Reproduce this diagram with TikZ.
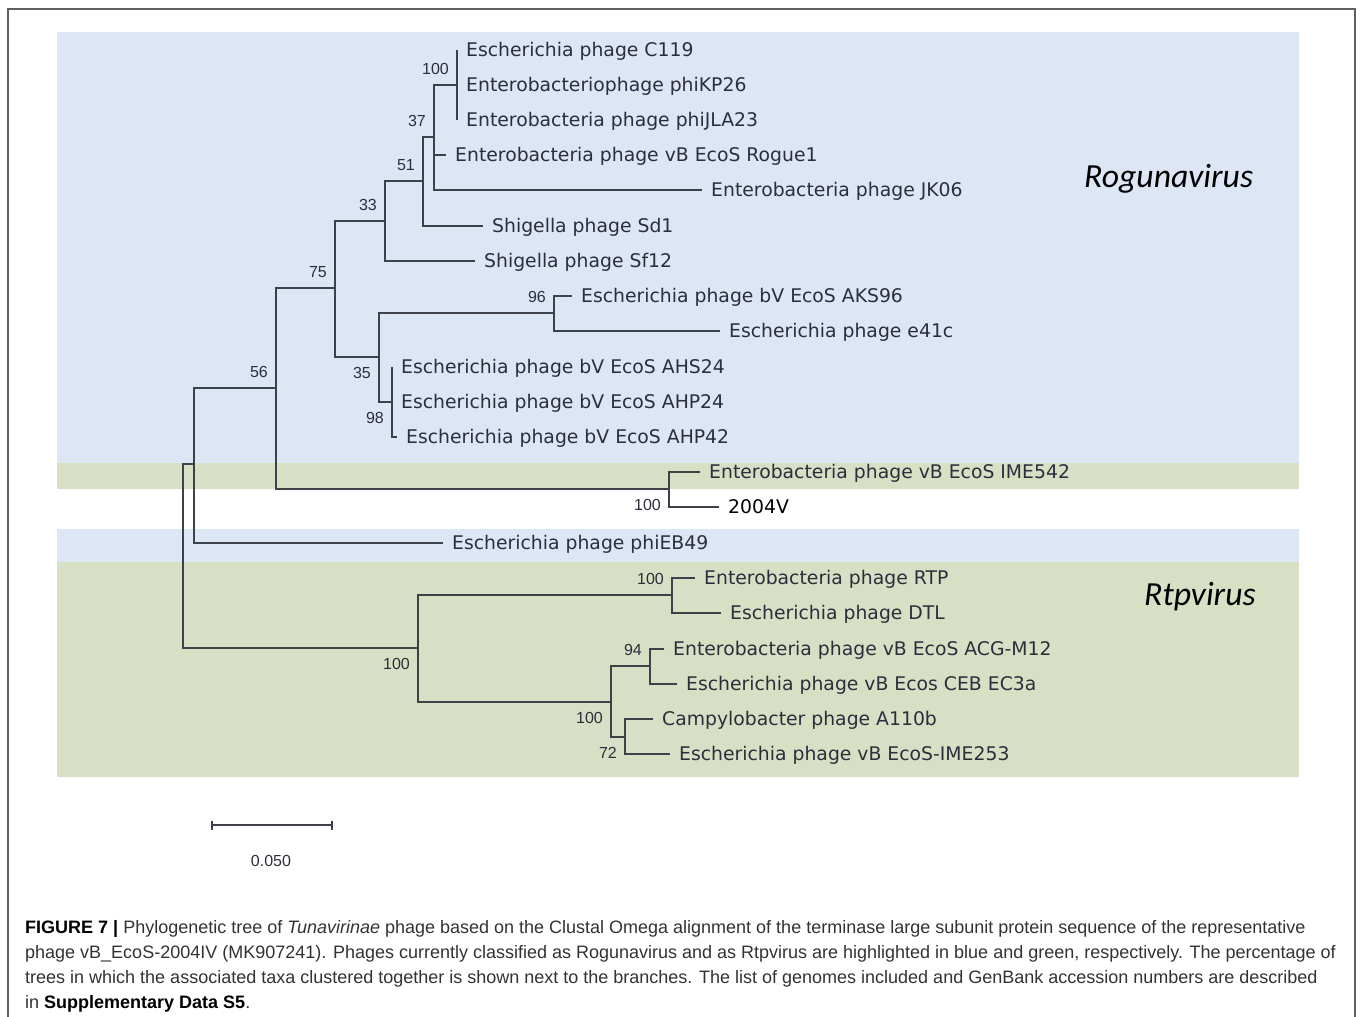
\documentclass[tikz,border=0pt]{standalone}
\usepackage{fontspec}
\setmainfont{Liberation Sans}
\newfontfamily\taxonfont{DejaVu Sans}
\newfontfamily\genusfont{Carlito}
\newfontfamily\captionfont{Liberation Sans}
\usetikzlibrary{positioning, arrows.meta}

\definecolor{roguBlue}{RGB}{220,230,245}
\definecolor{rtpGreen}{RGB}{215,224,196}
\definecolor{lineGray}{RGB}{62,64,74}
\definecolor{textGray}{RGB}{44,46,60}
\definecolor{frameGray}{RGB}{95,95,95}
\definecolor{capGray}{RGB}{50,50,50}

\begin{document}
\begin{tikzpicture}[x=1pt, y=-1pt,
  branch/.style={draw=lineGray, line width=1.6pt},
  taxon/.style={anchor=west, inner xsep=9pt, inner ysep=0pt, text height=13.7pt,
    text depth=0pt, text=textGray, font=\taxonfont\fontsize{18.8}{20}\selectfont},
  boot/.style={inner xsep=8pt, inner ysep=10pt, text=textGray,
    font=\fontsize{16}{17}\selectfont},
  genus/.style={anchor=base west, inner sep=0pt, text=black,
    font=\genusfont\itshape\fontsize{33.7}{36}\selectfont},
  band/.style={draw=none}]

  \useasboundingbox (0,0) rectangle (1360,1017);

  % frame
  \draw[frameGray, line width=1.6pt] (8,1017) -- (8,9) -- (1355,9) -- (1355,1017);

  % highlighted genera
  \fill[band, roguBlue] (57,32) rectangle (1299,463);
  \fill[band, rtpGreen] (57,463) rectangle (1299,489);
  \fill[band, roguBlue] (57,529) rectangle (1299,562);
  \fill[band, rtpGreen] (57,562) rectangle (1299,777);

  % taxa
  \node[taxon] (c119)   at (457,50)  {Escherichia phage C119};
  \node[taxon] (kp26)   at (457,85)  {Enterobacteriophage phiKP26};
  \node[taxon] (jla23)  at (457,120) {Enterobacteria phage phiJLA23};
  \node[taxon] (rogue)  at (446,155) {Enterobacteria phage vB EcoS Rogue1};
  \node[taxon] (jk06)   at (702,190) {Enterobacteria phage JK06};
  \node[taxon] (sd1)    at (483,226) {Shigella phage Sd1};
  \node[taxon] (sf12)   at (475,261) {Shigella phage Sf12};
  \node[taxon] (aks96)  at (572,296) {Escherichia phage bV EcoS AKS96};
  \node[taxon] (e41c)   at (720,331) {Escherichia phage e41c};
  \node[taxon] (ahs24)  at (392,367) {Escherichia phage bV EcoS AHS24};
  \node[taxon] (ahp24)  at (392,402) {Escherichia phage bV EcoS AHP24};
  \node[taxon] (ahp42)  at (397,437) {Escherichia phage bV EcoS AHP42};
  \node[taxon] (ime542) at (700,472) {Enterobacteria phage vB EcoS IME542};
  \node[taxon, text=black] (iv2004) at (719,507) {2004V};
  \node[taxon] (eb49)   at (443,543) {Escherichia phage phiEB49};
  \node[taxon] (rtp)    at (695,578) {Enterobacteria phage RTP};
  \node[taxon] (dtl)    at (721,613) {Escherichia phage DTL};
  \node[taxon] (acg)    at (664,649) {Enterobacteria phage vB EcoS ACG-M12};
  \node[taxon] (ceb)    at (677,684) {Escherichia phage vB Ecos CEB EC3a};
  \node[taxon] (a110b)  at (653,719) {Campylobacter phage A110b};
  \node[taxon] (ime253) at (670,754) {Escherichia phage vB EcoS-IME253};

  % inner nodes
  \coordinate (nA) at (457,85);
  \coordinate (nB) at (434,137);
  \coordinate (nC) at (423,181);
  \coordinate (nD) at (385,221);
  \coordinate (nE) at (554,313);
  \coordinate (nF) at (392,402);
  \coordinate (nG) at (379,357);
  \coordinate (nH) at (335,288);
  \coordinate (nI) at (276,388);
  \coordinate (nJ) at (669,489);
  \coordinate (nK) at (194,464);
  \coordinate (nL) at (183,556);
  \coordinate (nM) at (418,648);
  \coordinate (nN) at (672,595);
  \coordinate (nO) at (611,702);
  \coordinate (nP) at (650,666);
  \coordinate (nQ) at (625,737);

  % branches
  \draw[branch] (c119.west) -- (jla23.west);
  \draw[branch] (nA) -| (nB) |- (jk06.west);
  \draw[branch] (nB |- rogue.west) -- (rogue.west);
  \draw[branch] (nB) -| (nC) |- (sd1.west);
  \draw[branch] (nC) -| (nD) |- (sf12.west);
  \draw[branch] (aks96.west) -| (nE) |- (e41c.west);
  \draw[branch] (ahs24.west) |- (ahp42.west);
  \draw[branch] (nE) -| (nG) |- (nF);
  \draw[branch] (nD) -| (nH) |- (nG);
  \draw[branch] (ime542.west) -| (nJ) |- (iv2004.west);
  \draw[branch] (nH) -| (nI) |- (nJ);
  \draw[branch] (nI) -| (nK) |- (eb49.west);
  \draw[branch] (rtp.west) -| (nN) |- (dtl.west);
  \draw[branch] (acg.west) -| (nP) |- (ceb.west);
  \draw[branch] (a110b.west) -| (nQ) |- (ime253.west);
  \draw[branch] (nP) -| (nO) |- (nQ);
  \draw[branch] (nN) -| (nM) |- (nO);
  \draw[branch] (nK) -| (nL) |- (nM);

  % bootstrap values
  \node[boot, above left] (bA) at (nA) {100};
  \node[boot, above left] (bB) at (nB) {37};
  \node[boot, above left] (bC) at (nC) {51};
  \node[boot, above left] (bD) at (nD) {33};
  \node[boot, above left] (bH) at (nH) {75};
  \node[boot, above left] (bI) at (nI) {56};
  \node[boot, above left] (bE) at (nE) {96};
  \node[boot, below left] (bG) at (nG) {35};
  \node[boot, below left] (bF) at (nF) {98};
  \node[boot, below left] (bJ) at (nJ) {100};
  \node[boot, below left] (bM) at (nM) {100};
  \node[boot, above left] (bN) at (nN) {100};
  \node[boot, below left] (bO) at (nO) {100};
  \node[boot, above left] (bP) at (nP) {94};
  \node[boot, below left] (bQ) at (nQ) {72};

  % genus names
  \node[genus] (rogu) at (1084,187) {Rogunavirus};
  \node[genus] (rtpv) at (1144,605) {Rtpvirus};

  % scale bar
  \coordinate (sbL) at (211,825);
  \coordinate (sbR) at (333,825);
  \draw[lineGray, line width=1.6pt, {Bar[width=9pt]}-{Bar[width=9pt]}] (sbL) -- (sbR);
  \node[boot, inner sep=0pt] (sbLab) at (271,861) {0.050};

  % caption
  \node[anchor=base west, align=left, inner sep=0pt, text=capGray,
    font=\captionfont\fontsize{18}{25}\selectfont] (caption) at (25,1008)
    {\textbf{\color{black}FIGURE 7 |} Phylogenetic tree of \textit{Tunavirinae} phage based on the Clustal Omega alignment of the terminase large subunit protein sequence of the representative\\
     phage vB\_EcoS-2004IV (MK907241). Phages currently classified as Rogunavirus and as Rtpvirus are highlighted in blue and green, respectively. The percentage of\\
     trees in which the associated taxa clustered together is shown next to the branches. The list of genomes included and GenBank accession numbers are described\\
     in \textbf{\color{black}Supplementary Data S5}.};
\end{tikzpicture}
\end{document}
